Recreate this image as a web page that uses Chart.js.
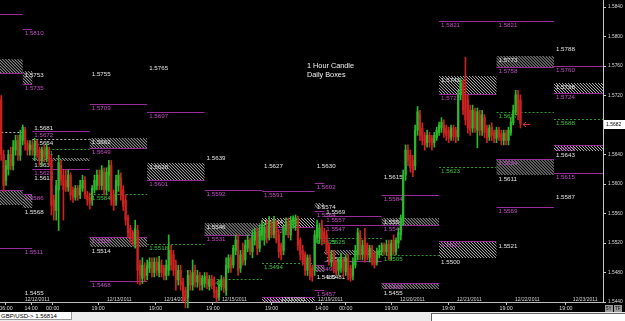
<!DOCTYPE html>
<html>
<head>
<meta charset="utf-8">
<title>GBP/USD 1 Hour Candle - Daily Boxes</title>
<script src="https://cdn.jsdelivr.net/npm/chart.js@4.4.1/dist/chart.umd.min.js"></script>
<style>
  html, body { margin: 0; padding: 0; background: #000; }
  body { width: 625px; height: 321px; overflow: hidden; }
  #c { display: block; }
  #status { position: relative; width: 625px; height: 9px; background: #ececec; }
  #sym { position: absolute; left: 0; top: 0; width: 72px; height: 8px; background: #fff; border-right: 1px solid #999; border-bottom: 1px solid #999;
         font: 6px "Liberation Sans", Arial, sans-serif; line-height: 8px; color: #000; padding-left: 1px; box-sizing: border-box; }
  #msg { position: absolute; left: 431px; top: 1px; right: 0; height: 8px; background: #fff; border-top: 1px solid #666; border-left: 1px solid #666; }
</style>
</head>
<body>
<canvas id="c" width="625" height="312"></canvas>
<div id="status"><div id="sym">GBP/USD-&gt; 1.56814</div><div id="msg"></div></div>
<script>
// hourly GBP/USD candles, one per hour slot (weekend compressed like the platform does)
const opens = [1.5714,1.5640,1.5605,1.5620,1.5640,1.5625,1.5646,1.5659,1.5639,1.5659,1.5673,1.5655,1.5646,1.5653,1.5639,1.5656,1.5646,1.5632,1.5646,1.5636,
  1.5646,1.5632,1.5578,1.5564,1.5592,1.5625,1.5612,1.5605,1.5596,1.5612,1.5592,1.5582,1.5594,1.5585,1.5594,1.5605,1.5585,1.5582,1.5578,1.5592,
  1.5598,1.5612,1.5598,1.5616,1.5592,1.5612,1.5625,1.5585,1.5578,1.5598,1.5608,1.5592,1.5578,1.5554,1.5540,1.5534,1.5520,1.5537,1.5490,1.5472,
  1.5486,1.5476,1.5486,1.5494,1.5480,1.5494,1.5480,1.5490,1.5486,1.5476,1.5483,1.5510,1.5504,1.5490,1.5470,1.5483,1.5467,1.5456,1.5446,1.5476,
  1.5463,1.5483,1.5467,1.5476,1.5463,1.5465,1.5475,1.5461,1.5471,1.5470,1.5456,1.5447,1.5461,1.5470,1.5456,1.5486,1.5500,1.5490,1.5510,1.5524,
  1.5486,1.5510,1.5497,1.5513,1.5524,1.5508,1.5524,1.5534,1.5513,1.5531,1.5524,1.5543,1.5527,1.5547,1.5532,1.5548,1.5531,1.5517,1.5510,1.5537,
  1.5548,1.5531,1.5548,1.5544,1.5551,1.5524,1.5510,1.5504,1.5483,1.5500,1.5486,1.5483,1.5528,1.5527,1.5544,1.5535,1.5531,1.5517,1.5494,1.5504,
  1.5494,1.5483,1.5486,1.5497,1.5481,1.5500,1.5486,1.5476,1.5490,1.5504,1.5531,1.5504,1.5527,1.5517,1.5500,1.5513,1.5504,1.5494,1.5504,1.5508,
  1.5517,1.5508,1.5518,1.5503,1.5524,1.5508,1.5520,1.5531,1.5551,1.5612,1.5646,1.5639,1.5632,1.5625,1.5673,1.5694,1.5676,1.5666,1.5656,1.5666,
  1.5662,1.5656,1.5663,1.5670,1.5676,1.5680,1.5676,1.5673,1.5664,1.5676,1.5673,1.5664,1.5721,1.5734,1.5720,1.5714,1.5700,1.5676,1.5698,1.5673,
  1.5694,1.5673,1.5690,1.5676,1.5664,1.5677,1.5670,1.5662,1.5673,1.5668,1.5659,1.5669,1.5659,1.5670,1.5683,1.5698,1.5721,1.5714];
const highs = [1.5720,1.5646,1.5632,1.5646,1.5650,1.5659,1.5666,1.5666,1.5673,1.5680,1.5677,1.5659,1.5659,1.5659,1.5662,1.5660,1.5650,1.5650,1.5653,1.5655,
  1.5650,1.5639,1.5585,1.5605,1.5639,1.5632,1.5619,1.5619,1.5619,1.5615,1.5596,1.5598,1.5598,1.5605,1.5612,1.5610,1.5590,1.5588,1.5598,1.5612,
  1.5619,1.5619,1.5625,1.5622,1.5622,1.5632,1.5632,1.5592,1.5612,1.5619,1.5615,1.5598,1.5585,1.5558,1.5544,1.5537,1.5551,1.5544,1.5497,1.5500,
  1.5493,1.5497,1.5500,1.5500,1.5500,1.5500,1.5502,1.5497,1.5490,1.5497,1.5531,1.5517,1.5510,1.5497,1.5490,1.5490,1.5472,1.5460,1.5483,1.5483,
  1.5497,1.5490,1.5483,1.5480,1.5476,1.5480,1.5480,1.5476,1.5476,1.5474,1.5460,1.5470,1.5476,1.5474,1.5500,1.5504,1.5504,1.5517,1.5531,1.5531,
  1.5510,1.5520,1.5524,1.5531,1.5527,1.5537,1.5540,1.5540,1.5544,1.5551,1.5547,1.5551,1.5556,1.5551,1.5556,1.5551,1.5537,1.5520,1.5544,1.5554,
  1.5554,1.5556,1.5557,1.5558,1.5556,1.5527,1.5517,1.5508,1.5504,1.5504,1.5490,1.5537,1.5551,1.5547,1.5551,1.5540,1.5537,1.5520,1.5510,1.5510,
  1.5497,1.5500,1.5506,1.5500,1.5504,1.5504,1.5490,1.5500,1.5517,1.5540,1.5537,1.5524,1.5540,1.5520,1.5517,1.5517,1.5508,1.5513,1.5517,1.5520,
  1.5520,1.5524,1.5524,1.5524,1.5531,1.5527,1.5540,1.5558,1.5619,1.5653,1.5653,1.5646,1.5639,1.5680,1.5705,1.5700,1.5683,1.5670,1.5673,1.5670,
  1.5666,1.5670,1.5677,1.5684,1.5690,1.5687,1.5680,1.5677,1.5680,1.5680,1.5677,1.5727,1.5743,1.5741,1.5772,1.5721,1.5707,1.5707,1.5703,1.5703,
  1.5700,1.5700,1.5694,1.5680,1.5680,1.5683,1.5673,1.5677,1.5677,1.5673,1.5673,1.5673,1.5677,1.5690,1.5707,1.5727,1.5727,1.5721];
const lows = [1.5632,1.5590,1.5598,1.5612,1.5619,1.5619,1.5639,1.5632,1.5632,1.5653,1.5646,1.5639,1.5639,1.5639,1.5632,1.5636,1.5625,1.5625,1.5630,1.5630,
  1.5625,1.5558,1.5551,1.5551,1.5537,1.5598,1.5551,1.5590,1.5590,1.5578,1.5575,1.5578,1.5578,1.5580,1.5590,1.5580,1.5571,1.5566,1.5571,1.5588,
  1.5592,1.5592,1.5592,1.5585,1.5585,1.5590,1.5571,1.5564,1.5571,1.5590,1.5578,1.5564,1.5544,1.5527,1.5520,1.5517,1.5513,1.5465,1.5463,1.5465,
  1.5468,1.5470,1.5480,1.5474,1.5474,1.5476,1.5474,1.5474,1.5470,1.5470,1.5476,1.5483,1.5476,1.5456,1.5463,1.5456,1.5440,1.5432,1.5432,1.5456,
  1.5456,1.5460,1.5460,1.5456,1.5456,1.5460,1.5458,1.5456,1.5458,1.5446,1.5440,1.5442,1.5456,1.5453,1.5449,1.5480,1.5480,1.5486,1.5504,1.5476,
  1.5480,1.5490,1.5490,1.5508,1.5504,1.5500,1.5517,1.5504,1.5508,1.5524,1.5517,1.5520,1.5524,1.5527,1.5527,1.5520,1.5500,1.5497,1.5504,1.5531,
  1.5527,1.5524,1.5540,1.5537,1.5510,1.5497,1.5490,1.5476,1.5476,1.5470,1.5468,1.5476,1.5520,1.5520,1.5517,1.5520,1.5504,1.5490,1.5488,1.5480,
  1.5476,1.5476,1.5480,1.5474,1.5476,1.5470,1.5468,1.5470,1.5486,1.5497,1.5497,1.5497,1.5494,1.5497,1.5494,1.5490,1.5486,1.5490,1.5500,1.5504,
  1.5504,1.5504,1.5497,1.5497,1.5504,1.5504,1.5513,1.5524,1.5544,1.5605,1.5625,1.5616,1.5610,1.5619,1.5666,1.5659,1.5653,1.5646,1.5650,1.5650,
  1.5646,1.5650,1.5659,1.5666,1.5670,1.5663,1.5659,1.5656,1.5659,1.5659,1.5656,1.5659,1.5714,1.5694,1.5680,1.5669,1.5666,1.5670,1.5670,1.5649,
  1.5666,1.5666,1.5663,1.5656,1.5659,1.5659,1.5656,1.5656,1.5659,1.5653,1.5653,1.5653,1.5653,1.5666,1.5680,1.5694,1.5687,1.5676];
const closes = [1.5640,1.5598,1.5625,1.5640,1.5625,1.5650,1.5659,1.5639,1.5666,1.5677,1.5655,1.5646,1.5653,1.5646,1.5656,1.5643,1.5632,1.5646,1.5636,1.5650,
  1.5632,1.5571,1.5564,1.5598,1.5629,1.5605,1.5592,1.5596,1.5612,1.5585,1.5582,1.5594,1.5585,1.5598,1.5605,1.5585,1.5578,1.5574,1.5594,1.5605,
  1.5612,1.5598,1.5619,1.5592,1.5616,1.5625,1.5578,1.5571,1.5605,1.5612,1.5585,1.5571,1.5551,1.5534,1.5527,1.5524,1.5540,1.5483,1.5476,1.5490,
  1.5475,1.5490,1.5494,1.5480,1.5494,1.5483,1.5494,1.5480,1.5476,1.5490,1.5510,1.5490,1.5483,1.5470,1.5483,1.5463,1.5449,1.5443,1.5476,1.5463,
  1.5480,1.5467,1.5476,1.5463,1.5472,1.5475,1.5464,1.5471,1.5463,1.5453,1.5445,1.5464,1.5470,1.5459,1.5490,1.5500,1.5486,1.5513,1.5524,1.5483,
  1.5504,1.5494,1.5517,1.5524,1.5510,1.5530,1.5534,1.5513,1.5537,1.5544,1.5540,1.5527,1.5548,1.5531,1.5551,1.5524,1.5508,1.5504,1.5540,1.5548,
  1.5531,1.5551,1.5554,1.5554,1.5517,1.5504,1.5494,1.5483,1.5500,1.5476,1.5474,1.5531,1.5544,1.5540,1.5524,1.5527,1.5510,1.5497,1.5504,1.5486,
  1.5480,1.5497,1.5501,1.5483,1.5500,1.5476,1.5472,1.5494,1.5510,1.5534,1.5504,1.5517,1.5500,1.5504,1.5513,1.5494,1.5490,1.5508,1.5510,1.5517,
  1.5508,1.5518,1.5502,1.5519,1.5508,1.5524,1.5534,1.5554,1.5612,1.5646,1.5632,1.5622,1.5616,1.5673,1.5698,1.5666,1.5659,1.5653,1.5666,1.5657,
  1.5653,1.5666,1.5673,1.5680,1.5684,1.5669,1.5666,1.5662,1.5676,1.5664,1.5664,1.5721,1.5738,1.5700,1.5687,1.5676,1.5673,1.5700,1.5676,1.5698,
  1.5673,1.5694,1.5670,1.5662,1.5676,1.5666,1.5662,1.5673,1.5664,1.5659,1.5669,1.5659,1.5673,1.5684,1.5700,1.5721,1.5694,1.5682];

// price axis and time axis labels
const yTicks = [1.5440, 1.5480, 1.5520, 1.5560, 1.5600, 1.5640, 1.5680, 1.5720, 1.5760, 1.5800, 1.5840];
const timeTickHours  = [2.5, 13, 22, 41, 65, 89, 113.5, 134.5, 144.5, 163.5, 187.5, 211.5, 236.5];
const timeTickLabels = ['06:00','14:00','00:00','19:00','19:00','19:00','19:00','14:00','00:00','19:00','19:00','19:00','19:00'];
const dateHours  = [10.4, 44.7, 68.5, 92.8, 117.4, 132.9, 167.2, 191, 215.2, 239.4];
const dateLabels = ['12/12/2011','12/13/2011','12/14/2011','12/15/2011','12/16/2011','12/19/2011','12/20/2011','12/21/2011','12/22/2011','12/23/2011'];

// daily boxes: each day column runs from dayEdges[d] to dayEdges[d+1] (hours)
const dayEdges = [-14.5, 9.5, 13.5, 37.5, 61.5, 85.5, 109.5, 131.5, 135.5, 159.5, 183.5, 207.5, 231.5, 255.5];
// [day, price, label]
const purpleLevels = [
  [0,1.5831,'1.5831'],[0,1.5750,'1.5750'],[0,1.5592,'1.5592'],[0,1.5513,'1.5513'],
  [1,1.5810,'1.5810'],[1,1.5735,'1.5735'],[1,1.5586,'1.5586'],[1,1.5513,'1.5511'],
  [2,1.5672,'1.5672'],[2,1.5621,'1.5620'],
  [3,1.5709,'1.5709'],[3,1.5649,'1.5649'],[3,1.5528,'1.5528'],[3,1.5468,'1.5468'],
  [4,1.5697,'1.5697'],[4,1.5605,'1.5601'],
  [5,1.5592,'1.5592'],[5,1.5531,'1.5531'],
  [6,1.5591,'1.5591'],[6,1.5542,'1.5542'],[6,1.5447,'1.5447'],
  [7,1.5602,'1.5602'],[7,1.5564,'1.5564'],[7,1.5490,'1.5490'],[7,1.5456,'1.5457'],
  [8,1.5557,'1.5557'],[8,1.5545,'1.5547'],[8,1.5496,''],
  [9,1.5585,'1.5584'],[9,1.5545,'1.5546'],[9,1.5466,'1.5466'],
  [10,1.5821,'1.5821'],[10,1.5722,'1.5722'],[10,1.5523,'1.5523'],
  [11,1.5821,'1.5821'],[11,1.5758,'1.5758'],[11,1.5634,'1.5634'],[11,1.5569,'1.5569'],
  [12,1.5760,'1.5760'],[12,1.5724,'1.5724'],[12,1.5653,'1.5653'],[12,1.5615,'1.5615']
];
const whiteLevels = [
  [1,1.5753,'1.5753'],[1,1.5568,'1.5568'],[1,1.5458,'1.5455'],
  [2,1.5682,'1.5681'],[2,1.5661,'1.5654'],[2,1.5631,'1.5631'],[2,1.5614,'1.5612'],
  [3,1.5755,'1.5755'],[3,1.5663,'1.5662'],[3,1.5514,'1.5514'],
  [4,1.5763,'1.5765'],[4,1.5628,'1.5628'],
  [5,1.5641,'1.5639'],[5,1.5547,'1.5546'],
  [6,1.5630,'1.5627'],[6,1.5554,'1.5554'],
  [7,1.5630,'1.5630'],[7,1.5574,'1.5574'],[7,1.5480,'1.5480'],
  [8,1.5567,'1.5569'],[8,1.5504,'1.5503'],[8,1.5480,'1.5481'],
  [9,1.5615,'1.5615'],[9,1.5554,'1.5554'],[9,1.5458,'1.5455'],
  [10,1.5746,'1.5743'],[10,1.5499,'1.5500'],
  [11,1.5773,'1.5773'],[11,1.5612,'1.5611'],[11,1.5521,'1.5521'],
  [12,1.5788,'1.5788'],[12,1.5737,'1.5738'],[12,1.5645,'1.5643'],[12,1.5588,'1.5587']
];
const greenLevels = [
  [2,1.5647,'1.5641'],[3,1.5587,'1.5584'],[4,1.5519,'1.5518'],[5,1.5471,'1.5471'],
  [6,1.5493,'1.5494'],[7,1.5527,'1.5525'],[8,1.5527,'1.5525'],[9,1.5504,'1.5505'],
  [10,1.5623,'1.5623'],[11,1.5697,'1.5697'],[12,1.5688,'1.5688']
];
const whiteDotted = [[0,1.5670],[2,1.5661]];
// [day, top, bottom]
const hatchBoxes = [
  [0,1.5770,1.5750],[0,1.5592,1.5572],[1,1.5753,1.5735],[1,1.5586,1.5568],[2,1.5635,1.5631],
  [3,1.5663,1.5649],[3,1.5528,1.5514],[4,1.5628,1.5605],[5,1.5547,1.5531],[6,1.5554,1.5542],
  [6,1.5447,1.5440],[7,1.5574,1.5567],[7,1.5490,1.5481],[8,1.5511,1.5504],[9,1.5554,1.5545],
  [9,1.5466,1.5458],[10,1.5746,1.5722],[10,1.5523,1.5499],[11,1.5773,1.5758],[11,1.5634,1.5612],
  [12,1.5737,1.5724],[12,1.5653,1.5645]
];

const UP = '#2cb82c', DOWN = '#cc2222';
const LBL = '6.2px "Liberation Sans", Arial, sans-serif';

const barColors = closes.map((c, i) => c >= opens[i] ? UP : DOWN);
const wicks = highs.map((h, i) => ({x: i + 0.5, y: [lows[i], h]}));
const bodies = opens.map((o, i) => ({x: i + 0.5, y: [o, closes[i]]}));

function dayPx(x, d) {
  return [x.getPixelForValue(dayEdges[d]), x.getPixelForValue(dayEdges[d + 1])];
}

const boxesPlugin = {
  id: 'boxes',
  beforeDraw(chart) {
    const ctx = chart.ctx;
    ctx.save();
    ctx.fillStyle = '#000';
    ctx.fillRect(0, 0, chart.width, chart.height);
    ctx.restore();
  },
  beforeDatasetsDraw(chart) {
    const {ctx, chartArea: a, scales: {x, y}} = chart;
    ctx.save();
    ctx.beginPath();
    ctx.rect(a.left, a.top, a.right - a.left, a.bottom - a.top);
    ctx.clip();

    // hatched boxes
    ctx.strokeStyle = '#b8b8b8';
    ctx.lineWidth = 1;
    hatchBoxes.forEach(([d, top, bot]) => {
      const [x0, x1] = dayPx(x, d);
      const y0 = Math.round(y.getPixelForValue(top)), y1 = Math.round(y.getPixelForValue(bot));
      const h = y1 - y0;
      ctx.save();
      ctx.beginPath();
      ctx.rect(x0, y0, x1 - x0, h);
      ctx.clip();
      ctx.beginPath();
      for (let s = x0 - h; s < x1; s += 3) {
        ctx.moveTo(s, y0);
        ctx.lineTo(s + h, y1);
      }
      ctx.stroke();
      ctx.restore();
    });

    // dotted lines
    ctx.setLineDash([2, 2]);
    whiteDotted.forEach(([d, p]) => {
      const [x0, x1] = dayPx(x, d);
      const py = Math.round(y.getPixelForValue(p)) + 0.5;
      ctx.strokeStyle = '#bbbbbb';
      ctx.beginPath(); ctx.moveTo(x0, py); ctx.lineTo(x1, py); ctx.stroke();
    });
    greenLevels.forEach(([d, p]) => {
      const [x0, x1] = dayPx(x, d);
      const py = Math.round(y.getPixelForValue(p)) + 0.5;
      ctx.strokeStyle = '#2f9a2f';
      ctx.beginPath(); ctx.moveTo(x0, py); ctx.lineTo(x1, py); ctx.stroke();
    });
    ctx.setLineDash([]);

    // solid purple lines
    ctx.strokeStyle = '#9a2c9a';
    purpleLevels.forEach(([d, p]) => {
      const [x0, x1] = dayPx(x, d);
      const py = Math.round(y.getPixelForValue(p)) + 0.5;
      ctx.beginPath(); ctx.moveTo(x0, py); ctx.lineTo(x1, py); ctx.stroke();
    });

    // level labels
    ctx.font = LBL;
    ctx.textBaseline = 'top';
    ctx.textAlign = 'left';
    const put = (list, color) => {
      ctx.fillStyle = color;
      list.forEach(([d, p, t]) => {
        if (!t) return;
        const [x0] = dayPx(x, d);
        ctx.fillText(t, x0 + 2, Math.round(y.getPixelForValue(p)) + 1.5);
      });
    };
    put(purpleLevels, '#c24cc4');
    put(whiteLevels, '#e2e2e2');
    put(greenLevels, '#3cc03c');

    // date row just above the time axis
    ctx.font = '5px "Liberation Sans", Arial, sans-serif';
    ctx.textBaseline = 'alphabetic';
    ctx.fillStyle = '#d6d6d6';
    dateHours.forEach((h, i) => ctx.fillText(dateLabels[i], x.getPixelForValue(h), a.bottom - 1));

    // chart caption
    ctx.font = '7.3px "Liberation Sans", Arial, sans-serif';
    ctx.fillStyle = '#f2f2f2';
    ctx.textBaseline = 'top';
    ctx.fillText('1 Hour Candle', a.left + 307, a.top + 62);
    ctx.fillText('Daily Boxes', a.left + 307, a.top + 71);
    ctx.restore();
  },
  afterDraw(chart) {
    const {ctx, chartArea: a, scales: {x, y}} = chart;
    const n = closes.length;
    const last = closes[n - 1];
    const py = Math.round(y.getPixelForValue(last)) + 0.5;
    // red arrow at the last price
    const ax = x.getPixelForValue(n + 0.6);
    ctx.save();
    ctx.strokeStyle = '#e03030';
    ctx.lineWidth = 1;
    ctx.beginPath();
    ctx.moveTo(ax, py); ctx.lineTo(ax + 7, py);
    ctx.moveTo(ax, py); ctx.lineTo(ax + 3, py - 2.5);
    ctx.moveTo(ax, py); ctx.lineTo(ax + 3, py + 2.5);
    ctx.stroke();
    // current price box on the price scale
    ctx.fillStyle = '#ffffff';
    ctx.fillRect(a.right + 1, py - 4.5, 21, 9);
    ctx.fillStyle = '#000';
    ctx.font = '5px "Liberation Sans", Arial, sans-serif';
    ctx.textBaseline = 'middle';
    ctx.textAlign = 'left';
    ctx.fillText(last.toFixed(4), a.right + 3, py);
    // small scale buttons in the corner
    ctx.fillStyle = '#9a9a9a';
    ctx.fillRect(a.right + 2, a.bottom + 3, 8, 7);
    ctx.fillRect(a.right + 11, a.bottom + 3, 8, 7);
    ctx.fillStyle = '#000';
    ctx.font = '4.5px "Liberation Sans", Arial, sans-serif';
    ctx.fillText('5Y', a.right + 3, a.bottom + 6.5);
    ctx.fillText('TF', a.right + 12, a.bottom + 6.5);
    ctx.restore();
  }
};

new Chart(document.getElementById('c'), {
  type: 'bar',
  data: {
    datasets: [
      {data: wicks, backgroundColor: barColors, barThickness: 1, grouped: false, clip: false, borderWidth: 0},
      {data: bodies, backgroundColor: barColors, barThickness: 1.6, grouped: false, clip: false, borderWidth: 0}
    ]
  },
  options: {
    responsive: false,
    animation: false,
    devicePixelRatio: 1,
    layout: {padding: 0},
    plugins: {legend: {display: false}, tooltip: {enabled: false}},
    scales: {
      x: {
        type: 'linear',
        min: 0,
        max: 252,
        offset: false,
        grid: {offset: false, drawOnChartArea: false, color: '#bdbdbd', tickLength: 3},
        border: {color: '#bdbdbd'},
        afterBuildTicks: (s) => { s.ticks = timeTickHours.map(v => ({value: v})); },
        afterFit: (s) => { s.height = 10; s.paddingLeft = 0; s.paddingRight = 0; },
        ticks: {
          autoSkip: false, maxRotation: 0, padding: 0, color: '#d8d8d8',
          font: {size: 5.3, family: '"Liberation Sans", Arial, sans-serif'},
          callback: (v, i) => timeTickLabels[i]
        }
      },
      y: {
        position: 'right',
        min: 1.5440,
        max: 1.58495,
        grid: {drawOnChartArea: false, color: '#c8c8c8', tickLength: 3},
        border: {color: '#c8c8c8'},
        afterBuildTicks: (s) => { s.ticks = yTicks.map(v => ({value: v})); },
        afterFit: (s) => { s.width = 22; s.paddingTop = 0; s.paddingBottom = 0; },
        ticks: {
          padding: 2, color: '#dadada',
          font: {size: 4.8, family: '"Liberation Sans", Arial, sans-serif'},
          callback: (v) => v.toFixed(4)
        }
      }
    }
  },
  plugins: [boxesPlugin]
});
</script>
</body>
</html>
